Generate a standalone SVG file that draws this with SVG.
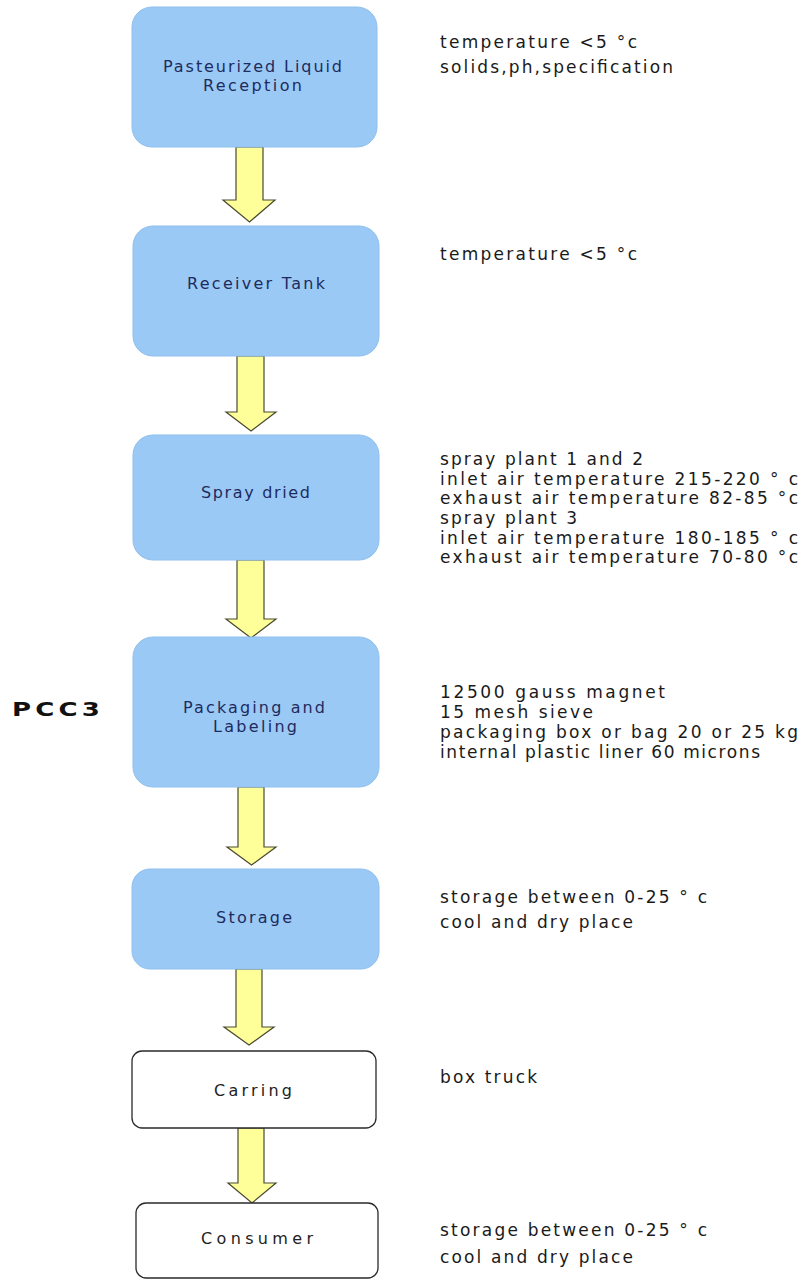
<svg xmlns="http://www.w3.org/2000/svg" width="803" height="1280" viewBox="0 0 803 1280">
<style>
.bg{fill:#ffffff}
.blue{fill:#9bc9f5;stroke:#90c0ee;stroke-width:1}
.white{fill:#ffffff;stroke:#2a2a2a;stroke-width:1.3}
.nl{font-family:"DejaVu Sans","Liberation Sans",sans-serif;font-size:16px;fill:#1e2b5e}
.nw{font-family:"DejaVu Sans","Liberation Sans",sans-serif;font-size:16px;fill:#222222}
.note{font-family:"DejaVu Sans","Liberation Sans",sans-serif;font-size:17px;fill:#1a1a1a}
.pcc{font-family:"DejaVu Sans","Liberation Sans",sans-serif;font-size:20px;font-weight:bold;fill:#111111}
.arrow{fill:#ffff99;stroke:#4a4a30;stroke-width:1.2;stroke-linejoin:miter}
</style>
<rect class="bg" x="0" y="0" width="803" height="1280"/>

<g id="connectors">
<path class="arrow" d="M236,147 L263,147 L263,200 L275,200 L249.5,222 L223,200 L236,200 Z"/>
<path class="arrow" d="M237,356 L264,356 L264,412 L276,412 L251,431 L226,412 L237,412 Z"/>
<path class="arrow" d="M237,560 L264,560 L264,619 L276,619 L251,638 L226,619 L237,619 Z"/>
<path class="arrow" d="M238,787 L264,787 L264,847 L276,847 L251.5,865 L227,847 L238,847 Z"/>
<path class="arrow" d="M236,969 L262,969 L262,1027 L274,1027 L249,1045 L224,1027 L236,1027 Z"/>
<path class="arrow" d="M238,1128 L264,1128 L264,1183 L276,1183 L252,1203 L228,1183 L238,1183 Z"/>
</g>

<g id="node-reception">
<rect class="blue" x="132" y="7" width="245" height="140" rx="20"/>
<text class="nl" x="163" y="72" textLength="179" lengthAdjust="spacing">Pasteurized Liquid</text>
<text class="nl" x="203" y="91" textLength="99" lengthAdjust="spacing">Reception</text>
</g>

<g id="node-receiver">
<rect class="blue" x="133" y="226" width="246" height="130" rx="20"/>
<text class="nl" x="187" y="289" textLength="138" lengthAdjust="spacing">Receiver Tank</text>
</g>

<g id="node-spray">
<rect class="blue" x="133" y="435" width="246" height="125" rx="20"/>
<text class="nl" x="201" y="498" textLength="109" lengthAdjust="spacing">Spray dried</text>
</g>

<g id="node-packaging">
<rect class="blue" x="133" y="637" width="246" height="150" rx="20"/>
<text class="nl" x="183" y="713" textLength="142" lengthAdjust="spacing">Packaging and</text>
<text class="nl" x="213" y="732" textLength="84" lengthAdjust="spacing">Labeling</text>
</g>

<g id="node-storage">
<rect class="blue" x="132" y="869" width="247" height="100" rx="18"/>
<text class="nl" x="216" y="923" textLength="76" lengthAdjust="spacing">Storage</text>
</g>

<g id="node-carring">
<rect class="white" x="132" y="1051" width="244" height="77" rx="10"/>
<text class="nw" x="214" y="1096" textLength="78" lengthAdjust="spacing">Carring</text>
</g>

<g id="node-consumer">
<rect class="white" x="136" y="1203" width="242" height="75" rx="10"/>
<text class="nw" x="201" y="1244" textLength="112" lengthAdjust="spacing">Consumer</text>
</g>

<g id="label-pcc3">
<text class="pcc" transform="scale(1.3,1)" x="9.2" y="716" textLength="67.7" lengthAdjust="spacing">PCC3</text>
</g>

<g id="notes">
<text class="note" x="440" y="48" textLength="197" lengthAdjust="spacing">temperature  &lt;5 °c</text>
<text class="note" x="440" y="73" textLength="233" lengthAdjust="spacing">solids,ph,specification</text>

<text class="note" x="440" y="260" textLength="197" lengthAdjust="spacing">temperature  &lt;5 °c</text>

<text class="note" x="440" y="465" textLength="203" lengthAdjust="spacing">spray plant 1 and 2</text>
<text class="note" x="440" y="485" textLength="358" lengthAdjust="spacing">inlet air temperature  215-220 ° c</text>
<text class="note" x="440" y="504" textLength="358" lengthAdjust="spacing">exhaust air temperature 82-85 °c</text>
<text class="note" x="440" y="524" textLength="137" lengthAdjust="spacing">spray plant 3</text>
<text class="note" x="440" y="544" textLength="358" lengthAdjust="spacing">inlet air temperature  180-185 ° c</text>
<text class="note" x="440" y="563" textLength="358" lengthAdjust="spacing">exhaust air temperature 70-80 °c</text>

<text class="note" x="440" y="698" textLength="225" lengthAdjust="spacing">12500 gauss magnet</text>
<text class="note" x="440" y="718" textLength="153" lengthAdjust="spacing">15 mesh sieve</text>
<text class="note" x="440" y="738" textLength="358" lengthAdjust="spacing">packaging box or bag 20 or 25 kg</text>
<text class="note" x="440" y="758" textLength="320" lengthAdjust="spacing">internal plastic liner 60 microns</text>

<text class="note" x="440" y="903" textLength="267" lengthAdjust="spacing">storage between 0-25 ° c</text>
<text class="note" x="440" y="928" textLength="193" lengthAdjust="spacing">cool and dry place</text>

<text class="note" x="440" y="1083" textLength="97" lengthAdjust="spacing">box truck</text>

<text class="note" x="440" y="1236" textLength="267" lengthAdjust="spacing">storage between 0-25 ° c</text>
<text class="note" x="440" y="1263" textLength="193" lengthAdjust="spacing">cool and dry place</text>
</g>
</svg>
